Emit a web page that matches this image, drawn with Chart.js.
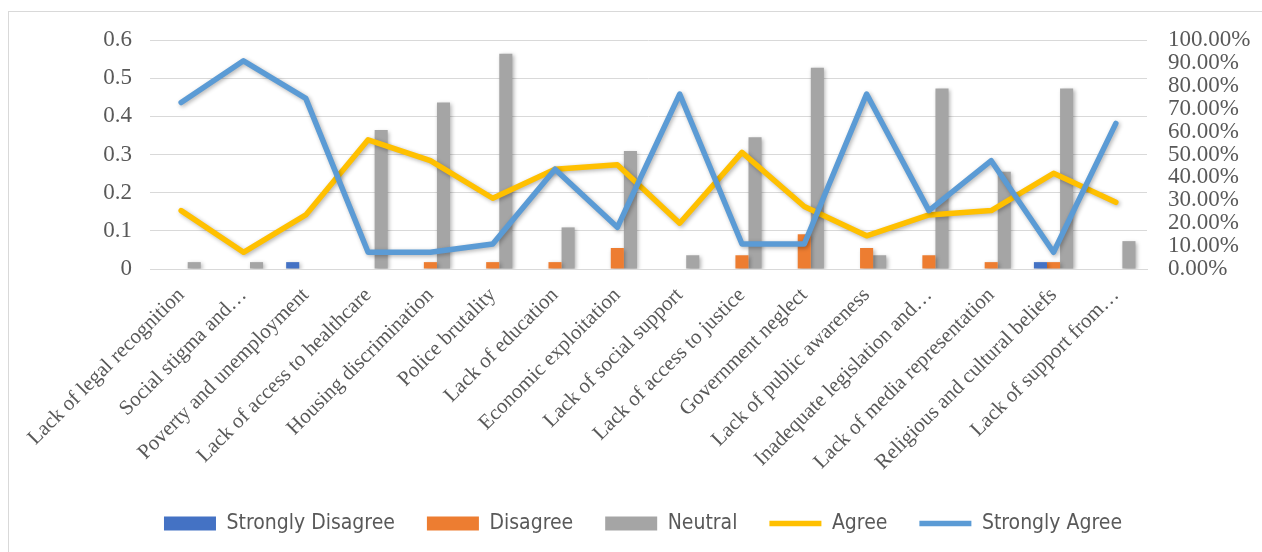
<!DOCTYPE html>
<html>
<head>
<meta charset="utf-8">
<title>Challenges</title>
<script src="https://cdn.jsdelivr.net/npm/chart.js@4.4.1/dist/chart.umd.min.js"></script>
<style>
  html, body { margin: 0; padding: 0; background: #fff; overflow: hidden; }
  #frame { position: absolute; left: 8px; top: 11px; width: 1300px; height: 600px; border: 1px solid #d9d9d9; }
  #wrap { position: absolute; left: 0; top: 0; width: 1262px; height: 552px; }
</style>
</head>
<body>
<div id="frame"></div>
<div id="wrap"><canvas id="chart"></canvas></div>
<script>
const categories = [
  "Lack of legal recognition",
  "Social stigma and\u2026",
  "Poverty and unemployment",
  "Lack of access to healthcare",
  "Housing discrimination",
  "Police brutality",
  "Lack of education",
  "Economic exploitation",
  "Lack of social support",
  "Lack of access to justice",
  "Government neglect",
  "Lack of public awareness",
  "Inadequate legislation and\u2026",
  "Lack of media representation",
  "Religious and cultural beliefs",
  "Lack of support from\u2026"
];

// share of respondents per answer
const stronglyDisagree = [0, 0, 0.018, 0, 0, 0, 0, 0, 0, 0, 0, 0, 0, 0, 0.018, 0];
const disagree = [0, 0, 0, 0, 0.018, 0.018, 0.018, 0.055, 0, 0.036, 0.091, 0.055, 0.036, 0.018, 0.018, 0];
const neutral = [0.018, 0.018, 0, 0.364, 0.436, 0.564, 0.109, 0.309, 0.036, 0.345, 0.527, 0.036, 0.473, 0.255, 0.473, 0.073];
const agree = [0.255, 0.073, 0.236, 0.564, 0.473, 0.309, 0.436, 0.455, 0.200, 0.509, 0.273, 0.145, 0.236, 0.255, 0.418, 0.291];
const stronglyAgree = [0.727, 0.909, 0.745, 0.073, 0.073, 0.109, 0.436, 0.182, 0.764, 0.109, 0.109, 0.764, 0.255, 0.473, 0.073, 0.636];

const leftTicks = [0, 0.1, 0.2, 0.3, 0.4, 0.5, 0.6];
const rightTicks = [0, 0.1, 0.2, 0.3, 0.4, 0.5, 0.6, 0.7, 0.8, 0.9, 1];

const textColor = "#595959";
const gridColor = "#d9d9d9";

// soft drop shadow under every series, like the office chart style
const shadowPlugin = {
  id: "shadow",
  beforeDatasetDraw(chart) {
    const ctx = chart.ctx;
    ctx.save();
    ctx.shadowColor = "rgba(0,0,0,0.3)";
    ctx.shadowBlur = 4;
    ctx.shadowOffsetX = 1.5;
    ctx.shadowOffsetY = 1.5;
  },
  afterDatasetDraw(chart) {
    chart.ctx.restore();
  }
};

function barSet(label, data, color) {
  return {
    type: "bar",
    label: label,
    data: data,
    backgroundColor: color,
    borderWidth: 0,
    yAxisID: "y",
    order: 2,
    pointStyle: "rect",
    categoryPercentage: 0.63,
    barPercentage: 1
  };
}

function lineSet(label, data, color, order) {
  return {
    type: "line",
    label: label,
    data: data,
    borderColor: color,
    backgroundColor: color,
    borderWidth: 5.5,
    borderJoinStyle: "round",
    borderCapStyle: "round",
    pointRadius: 0,
    tension: 0,
    yAxisID: "y1",
    order: order,
    pointStyle: "line"
  };
}

new Chart(document.getElementById("chart"), {
  data: {
    labels: categories,
    datasets: [
      barSet("Strongly Disagree", stronglyDisagree, "#4472c4"),
      barSet("Disagree", disagree, "#ed7d31"),
      barSet("Neutral", neutral, "#a5a5a5"),
      lineSet("Agree", agree, "#ffc000", 1),
      lineSet("Strongly Agree", stronglyAgree, "#5b9bd5", 0)
    ]
  },
  options: {
    responsive: true,
    maintainAspectRatio: false,
    animation: false,
    layout: { padding: { top: 40, bottom: 8, left: 24, right: 0 } },
    plugins: {
      tooltip: { enabled: false },
      legend: {
        position: "bottom",
        labels: {
          usePointStyle: true,
          pointStyleWidth: 52,
          boxHeight: 14,
          padding: 32,
          color: textColor,
          font: { family: "'Liberation Sans Narrow', 'DejaVu Sans Condensed', sans-serif", size: 21 },
          sort: (a, b) => a.datasetIndex - b.datasetIndex
        }
      }
    },
    scales: {
      x: {
        grid: { display: false },
        border: { display: true, color: gridColor, width: 1 },
        ticks: {
          autoSkip: false,
          minRotation: 45,
          maxRotation: 45,
          padding: 6,
          color: textColor,
          font: { family: "'Liberation Serif', serif", size: 21 }
        },
        afterFit: s => { s.height = 212; }
      },
      y: {
        position: "left",
        min: 0,
        max: 0.6,
        afterBuildTicks: s => { s.ticks = leftTicks.map(v => ({ value: v })); },
        grid: { color: gridColor, lineWidth: 1, drawTicks: false },
        border: { display: false },
        ticks: {
          autoSkip: false,
          padding: 18,
          color: textColor,
          font: { family: "'Liberation Serif', serif", size: 23 },
          callback: v => String(Math.round(v * 10) / 10)
        },
        afterFit: s => { s.width = 126; }
      },
      y1: {
        position: "right",
        min: 0,
        max: 1,
        afterBuildTicks: s => { s.ticks = rightTicks.map(v => ({ value: v })); },
        grid: { display: false, drawTicks: false },
        border: { display: false },
        ticks: {
          autoSkip: false,
          padding: 21,
          color: textColor,
          font: { family: "'Liberation Serif', serif", size: 23 },
          callback: v => (v * 100).toFixed(2) + "%"
        },
        afterFit: s => { s.width = 115; }
      }
    }
  },
  plugins: [shadowPlugin]
});
</script>
</body>
</html>
